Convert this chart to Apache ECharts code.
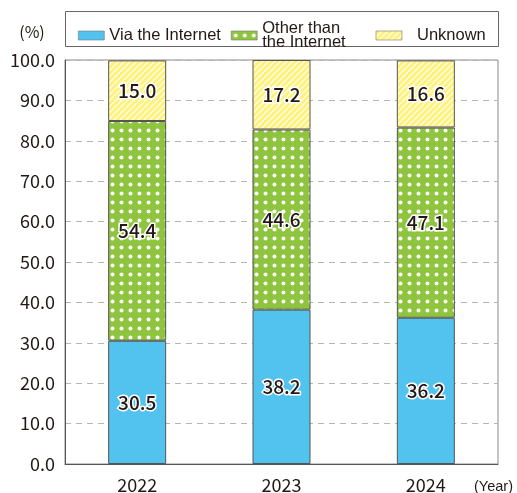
<!DOCTYPE html>
<html>
<head>
<meta charset="utf-8">
<script src="https://cdn.jsdelivr.net/npm/echarts@6/dist/echarts.min.js"></script>
<style>
  html, body { margin: 0; padding: 0; background: #fff; }
  #chart { width: 517px; height: 493px; }
</style>
</head>
<body>
<div id="chart"></div>
<script>
const years = ['2022', '2023', '2024']
const viaInternet = [30.5, 38.2, 36.2]
const otherThanInternet = [54.4, 44.6, 47.1]
const unknown = [15.0, 17.2, 16.6]
const yTicks = [0, 10, 20, 30, 40, 50, 60, 70, 80, 90, 100]

// dotted fill for "other than the internet"
const dotPattern = (() => {
  const c = document.createElement('canvas')
  c.width = 9; c.height = 9
  const ctx = c.getContext('2d')
  ctx.fillStyle = '#8fc43f'
  ctx.fillRect(0, 0, 9, 9)
  ctx.fillStyle = '#fff'
  ctx.beginPath()
  ctx.arc(4.5, 4.5, 2, 0, Math.PI * 2)
  ctx.fill()
  return c
})()

// striped fill for "unknown"
const stripePattern = (() => {
  const c = document.createElement('canvas')
  c.width = 6; c.height = 6
  const ctx = c.getContext('2d')
  ctx.fillStyle = '#fff27a'
  ctx.fillRect(0, 0, 6, 6)
  ctx.strokeStyle = 'rgba(255,255,255,0.85)'
  ctx.lineWidth = 1.4
  ctx.beginPath()
  for (let k = -6; k <= 12; k += 6) {
    ctx.moveTo(k, 6)
    ctx.lineTo(k + 6, 0)
  }
  ctx.stroke()
  return c
})()

const labelStyle = {
  show: true,
  position: 'inside',
  fontFamily: 'Noto Sans CJK JP',
  fontSize: 19,
  fontWeight: 500,
  color: '#231815',
  textBorderColor: '#fff',
  textBorderWidth: 3,
  formatter: p => p.value.toFixed(1)
}

const makeSeries = (name, data, color) => ({
  name: name,
  type: 'bar',
  stack: 'total',
  barWidth: 58,
  data: data,
  itemStyle: { color: color, borderColor: '#555', borderWidth: 1 },
  label: labelStyle,
  emphasis: { disabled: true }
})

const chart = echarts.init(document.getElementById('chart'))
chart.setOption({
  animation: false,
  textStyle: { fontFamily: 'Liberation Sans' },
  grid: {
    left: 65, right: 19, top: 60, bottom: 29,
    outerBoundsMode: 'none',
    containLabel: false,
    show: true, borderColor: '#8a8a8a', borderWidth: 1
  },
  graphic: [{
    type: 'rect',
    shape: { x: 65.5, y: 11.5, width: 433, height: 35 },
    style: { fill: 'none', stroke: '#666', lineWidth: 1 },
    z: 1
  }],
  legend: {
    left: 73, top: 15,
    itemWidth: 26, itemHeight: 9,
    itemGap: 10,
    icon: 'rect',
    textStyle: { fontSize: 16.5, color: '#231815', fontFamily: 'Liberation Sans', lineHeight: 14 },
    data: [
      { name: 'Via the Internet' },
      { name: 'Other than\nthe Internet', textStyle: { padding: [0, 20, 0, 0] } },
      { name: 'Unknown', textStyle: { padding: [0, 0, 0, 10] } }
    ],
    itemStyle: { borderColor: '#777', borderWidth: 0.6 }
  },
  xAxis: {
    type: 'category',
    data: years,
    name: '(Year)',
    nameLocation: 'end',
    nameGap: 0,
    nameTextStyle: { fontSize: 14.5, color: '#231815', padding: [15, 0, 0, -24], verticalAlign: 'top' },
    axisLine: { lineStyle: { color: '#555' } },
    axisTick: { show: false },
    axisLabel: { fontSize: 18, color: '#231815', margin: 12, fontFamily: 'Noto Sans CJK JP' }
  },
  yAxis: {
    type: 'value',
    min: yTicks[0],
    max: yTicks[yTicks.length - 1],
    interval: 10,
    name: '(%)',
    nameLocation: 'end',
    nameGap: 20,
    nameTextStyle: { fontSize: 16, color: '#231815', padding: [0, 66, 0, 0], fontFamily: 'Noto Sans CJK JP' },
    axisLine: { show: true, lineStyle: { color: '#555' } },
    axisTick: { show: false },
    axisLabel: {
      fontSize: 18, color: '#231815', margin: 10, fontFamily: 'Noto Sans CJK JP',
      formatter: v => v.toFixed(1)
    },
    splitLine: { lineStyle: { color: '#b5b5b5', type: [6, 5] } }
  },
  series: [
    makeSeries('Via the Internet', viaInternet, '#52c2ef'),
    makeSeries('Other than\nthe Internet', otherThanInternet, { image: dotPattern, repeat: 'repeat' }),
    makeSeries('Unknown', unknown, { image: stripePattern, repeat: 'repeat' })
  ]
})
</script>
</body>
</html>
